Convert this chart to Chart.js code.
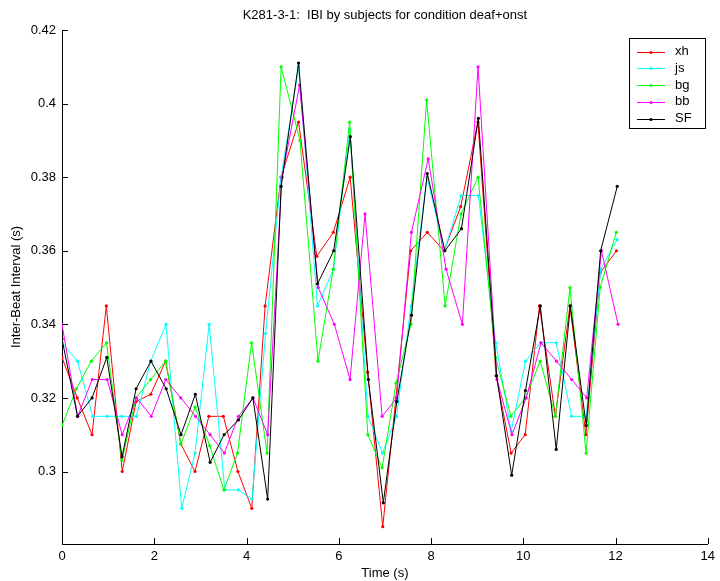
<!DOCTYPE html>
<html>
<head>
<meta charset="utf-8">
<title>IBI by subjects</title>
<script src="https://cdn.jsdelivr.net/npm/chart.js@4.4.1/dist/chart.umd.min.js"></script>
<style>
  html, body { margin: 0; padding: 0; background: #ffffff; }
  #wrap { width: 720px; height: 581px; }
</style>
</head>
<body>
<div id="wrap"><canvas id="ibiChart" width="720" height="581"></canvas></div>
<script>
// Inter-beat intervals (s) per subject, one value per beat
const ibiXh = [0.331, 0.32, 0.31, 0.345, 0.30, 0.319, 0.321, 0.33, 0.3075, 0.30,
               0.315, 0.315, 0.30, 0.29, 0.345, 0.38, 0.395, 0.3585, 0.365, 0.38,
               0.327, 0.285, 0.32, 0.36, 0.365, 0.36, 0.372, 0.395, 0.326, 0.305,
               0.31, 0.345, 0.315, 0.345, 0.31, 0.354, 0.36];
const ibiJs = [0.335, 0.33, 0.315, 0.315, 0.315, 0.315, 0.33, 0.34, 0.29, 0.305,
               0.34, 0.295, 0.295, 0.2925, 0.3375, 0.38, 0.41, 0.345, 0.355, 0.393,
               0.315, 0.305, 0.315, 0.345, 0.38, 0.36, 0.375, 0.375, 0.335, 0.311,
               0.33, 0.335, 0.335, 0.315, 0.315, 0.355, 0.363];
const ibiBg = [0.3125, 0.3225, 0.33, 0.335, 0.303, 0.32, 0.325, 0.33, 0.3075, 0.3175,
               0.307, 0.295, 0.305, 0.335, 0.305, 0.41, 0.39, 0.33, 0.355, 0.395,
               0.31, 0.301, 0.324, 0.34, 0.401, 0.345, 0.37, 0.38, 0.331, 0.315,
               0.32, 0.33, 0.315, 0.35, 0.305, 0.35, 0.365];
const ibiBb = [0.34, 0.315, 0.325, 0.325, 0.31, 0.32, 0.315, 0.325, 0.32, 0.315,
               0.31, 0.305, 0.315, 0.32, 0.31, 0.38, 0.405, 0.35, 0.34, 0.325,
               0.37, 0.315, 0.32, 0.365, 0.385, 0.355, 0.34, 0.41, 0.325, 0.31,
               0.32, 0.335, 0.33, 0.325, 0.32, 0.36, 0.34];
const ibiSF = [0.336, 0.315, 0.32, 0.331, 0.304, 0.3225, 0.33, 0.3225, 0.31, 0.321,
               0.3025, 0.31, 0.314, 0.32, 0.2925, 0.3775, 0.411, 0.351, 0.36, 0.391,
               0.325, 0.2915, 0.319, 0.3425, 0.381, 0.36, 0.366, 0.396, 0.326, 0.299,
               0.322, 0.345, 0.306, 0.345, 0.3125, 0.36, 0.3775];

const subjectNames = ['xh', 'js', 'bg', 'bb', 'SF'];
const subjectColors = ['#ff0000', '#00ffff', '#00ff00', '#ff00ff', '#000000'];
const subjectIbis = [ibiXh, ibiJs, ibiBg, ibiBb, ibiSF];

const xTickValues = [0, 2, 4, 6, 8, 10, 12, 14];
const xTickLabels = ['0', '2', '4', '6', '8', '10', '12', '14'];
const yTickValues = [0.3, 0.32, 0.34, 0.36, 0.38, 0.4, 0.42];
const yTickLabels = ['0.3', '0.32', '0.34', '0.36', '0.38', '0.4', '0.42'];

const chartTitle = 'K281-3-1:  IBI by subjects for condition deaf+onst';
const FONT = "'Liberation Sans', Arial, Helvetica, sans-serif";
const FONT_SIZE = 13;

// A beat happens at the end of all the intervals before it, the first one at t = 0
function beatTimes(ibi) {
  const t = [];
  let sum = 0;
  for (const v of ibi) { t.push(sum); sum += v; }
  return t;
}

// Later subjects are drawn over earlier ones (SF on top)
const datasets = subjectIbis.map((ibi, k) => {
  const t = beatTimes(ibi);
  return {
    label: subjectNames[k],
    data: ibi.map((v, i) => ({ x: t[i], y: v })),
    borderColor: subjectColors[k],
    backgroundColor: subjectColors[k],
    borderWidth: 1,
    pointRadius: 1.6,
    pointBorderWidth: 0,
    pointHoverRadius: 1.6,
    tension: 0,
    order: subjectIbis.length - k
  };
});

const matlabAxes = {
  id: 'matlabAxes',
  afterDraw(chart) {
    const ctx = chart.ctx;
    const area = chart.chartArea;
    const xs = chart.scales.x, ys = chart.scales.y;
    ctx.save();
    // inward tick marks
    ctx.strokeStyle = '#000';
    ctx.lineWidth = 1;
    ctx.beginPath();
    xTickValues.forEach(v => {
      const px = Math.round(xs.getPixelForValue(v)) + 0.5;
      ctx.moveTo(px, area.bottom);
      ctx.lineTo(px, area.bottom - 6);
    });
    yTickValues.forEach(v => {
      const py = Math.round(ys.getPixelForValue(v)) + 0.5;
      ctx.moveTo(area.left, py);
      ctx.lineTo(area.left + 6, py);
    });
    ctx.stroke();

    // title
    ctx.fillStyle = '#000';
    ctx.font = FONT_SIZE + 'px ' + FONT;
    ctx.textAlign = 'center';
    ctx.textBaseline = 'middle';
    ctx.fillText(chartTitle, (area.left + area.right) / 2, 15);

    // legend box
    const bx = 629.5, by = 38.5, bw = 76, bh = 90;
    ctx.fillStyle = '#fff';
    ctx.fillRect(bx, by, bw, bh);
    ctx.strokeStyle = '#000';
    ctx.strokeRect(bx, by, bw, bh);
    ctx.textAlign = 'left';
    subjectNames.forEach((name, k) => {
      const y = 51.5 + k * 16.8;
      const yl = Math.round(y) + 0.5;
      ctx.strokeStyle = subjectColors[k];
      ctx.beginPath();
      ctx.moveTo(637, yl);
      ctx.lineTo(665, yl);
      ctx.stroke();
      ctx.fillStyle = subjectColors[k];
      ctx.beginPath();
      ctx.arc(651, yl, 1.6, 0, Math.PI * 2);
      ctx.fill();
      ctx.fillStyle = '#000';
      ctx.fillText(name, 675, y);
    });
    ctx.restore();
  }
};

new Chart(document.getElementById('ibiChart'), {
  type: 'line',
  data: { datasets },
  options: {
    responsive: false,
    devicePixelRatio: 1,
    animation: false,
    events: [],
    layout: { padding: { top: 30, right: 9, left: 0, bottom: 0 } },
    plugins: { legend: { display: false }, title: { display: false }, tooltip: { enabled: false } },
    scales: {
      x: {
        type: 'linear',
        min: 0,
        max: 14,
        afterFit(scale) { scale.height = 37; },
        afterBuildTicks(scale) { scale.ticks = xTickValues.map(v => ({ value: v })); },
        grid: { display: false, drawTicks: false },
        border: { display: true, color: '#000', width: 1 },
        ticks: {
          padding: 5,
          color: '#000',
          font: { family: FONT, size: FONT_SIZE },
          maxRotation: 0,
          autoSkip: false,
          callback: (v, i) => xTickLabels[i]
        },
        title: {
          display: true,
          text: 'Time (s)',
          color: '#000',
          font: { family: FONT, size: FONT_SIZE },
          padding: { top: 0, bottom: 0 }
        }
      },
      y: {
        type: 'linear',
        min: 0.2803,
        max: 0.42,
        afterFit(scale) { scale.width = 62; },
        afterBuildTicks(scale) { scale.ticks = yTickValues.map(v => ({ value: v })); },
        grid: { display: false, drawTicks: false },
        border: { display: true, color: '#000', width: 1 },
        ticks: {
          padding: 6,
          color: '#000',
          font: { family: FONT, size: FONT_SIZE },
          autoSkip: false,
          callback: (v, i) => yTickLabels[i]
        },
        title: {
          display: true,
          text: 'Inter-Beat Interval (s)',
          color: '#000',
          font: { family: FONT, size: FONT_SIZE },
          padding: { top: 9, bottom: 0 }
        }
      }
    }
  },
  plugins: [matlabAxes]
});
</script>
</body>
</html>
